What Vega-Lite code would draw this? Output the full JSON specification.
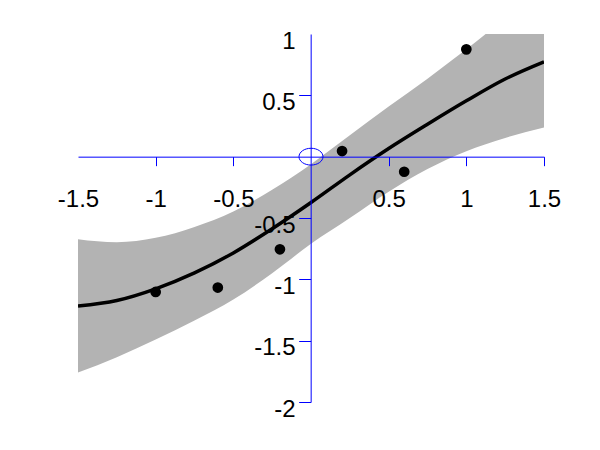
{
  "$schema": "https://vega.github.io/schema/vega-lite/v6.json",
  "width": 466,
  "height": 368,
  "autosize": "none",
  "padding": {"left": 78, "top": 34, "right": 56, "bottom": 48},
  "background": "white",
  "config": {"view": {"stroke": null}},
  "datasets": {
    "band": [
      {"x": -1.5, "y": -1.76, "y2": -0.673},
      {"x": -1.25, "y": -1.635, "y2": -0.698},
      {"x": -1.0, "y": -1.49, "y2": -0.662},
      {"x": -0.75, "y": -1.335, "y2": -0.573},
      {"x": -0.5, "y": -1.165, "y2": -0.447},
      {"x": -0.25, "y": -0.95, "y2": -0.27},
      {"x": 0, "y": -0.71, "y2": -0.061},
      {"x": 0.25, "y": -0.5, "y2": 0.174},
      {"x": 0.5, "y": -0.285, "y2": 0.408},
      {"x": 0.75, "y": -0.1, "y2": 0.635},
      {"x": 1.0, "y": 0.045, "y2": 0.875},
      {"x": 1.25, "y": 0.153, "y2": 1.12},
      {"x": 1.5, "y": 0.238, "y2": 1.31}
    ],
    "curve": [
      {"x": -1.5, "y": -1.217},
      {"x": -1.25, "y": -1.172},
      {"x": -1.0, "y": -1.077},
      {"x": -0.75, "y": -0.947},
      {"x": -0.5, "y": -0.785},
      {"x": -0.25, "y": -0.588},
      {"x": 0, "y": -0.374},
      {"x": 0.25, "y": -0.148},
      {"x": 0.5, "y": 0.066},
      {"x": 0.75, "y": 0.264},
      {"x": 1.0, "y": 0.455},
      {"x": 1.25, "y": 0.633},
      {"x": 1.5, "y": 0.773}
    ],
    "obs": [
      {"x": -1.0, "y": -1.103},
      {"x": -0.6, "y": -1.067},
      {"x": -0.2, "y": -0.755},
      {"x": 0.2, "y": 0.046},
      {"x": 0.6, "y": -0.123},
      {"x": 1.0, "y": 0.875}
    ],
    "origin": [{"x": 0, "y": 0}]
  },
  "encoding": {
    "x": {
      "field": "x", "type": "quantitative",
      "scale": {"domain": [-1.5, 1.5], "nice": false, "zero": false},
      "axis": {
        "title": null, "offset": -245.33, "values": [-1.5, -1, -0.5, 0.5, 1, 1.5],
        "grid": false, "zindex": 1,
        "domainColor": "#0000ff", "domainWidth": 1,
        "tickColor": "#0000ff", "tickWidth": 1, "tickSize": 9,
        "tickOpacity": {"condition": {"test": "datum.value == -1.5", "value": 0}, "value": 1},
        "labelFont": "Liberation Sans", "labelFontSize": 24, "labelColor": "black",
        "labelPadding": 22, "labelFlush": false, "labelOverlap": false, "labelBound": false,
        "labelExpr": "'' + datum.value"
      }
    },
    "y": {
      "field": "y", "type": "quantitative",
      "scale": {"domain": [-2, 1], "nice": false, "zero": false},
      "axis": {
        "title": null, "offset": -232.67, "values": [1, 0.5, -0.5, -1, -1.5, -2],
        "grid": false, "zindex": 1,
        "domainColor": "#0000ff", "domainWidth": 1,
        "tickColor": "#0000ff", "tickWidth": 1, "tickSize": 12,
        "tickOpacity": {"condition": {"test": "datum.value == 1", "value": 0}, "value": 1},
        "labelFont": "Liberation Sans", "labelFontSize": 24, "labelColor": "black",
        "labelPadding": 3.6, "labelOffset": 7, "labelBaseline": "middle",
        "labelFlush": false, "labelOverlap": false, "labelBound": false,
        "labelExpr": "'' + datum.value"
      }
    }
  },
  "layer": [
    {
      "data": {"name": "band"},
      "mark": {"type": "area", "color": "#b3b3b3", "opacity": 1, "interpolate": "monotone", "clip": true},
      "encoding": {"y2": {"field": "y2"}}
    },
    {
      "data": {"name": "curve"},
      "mark": {"type": "line", "color": "black", "strokeWidth": 3.5, "interpolate": "monotone", "clip": true}
    },
    {
      "data": {"name": "origin"},
      "mark": {
        "type": "point", "filled": false, "stroke": "#0000ff", "strokeWidth": 1, "opacity": 1, "size": 576,
        "shape": "M -1 0 C -1 -0.3866 -0.5523 -0.7 0 -0.7 C 0.5523 -0.7 1 -0.3866 1 0 C 1 0.3866 0.5523 0.7 0 0.7 C -0.5523 0.7 -1 0.3866 -1 0 Z"
      }
    },
    {
      "data": {"name": "obs"},
      "mark": {"type": "circle", "color": "black", "opacity": 1, "size": 115}
    }
  ]
}
